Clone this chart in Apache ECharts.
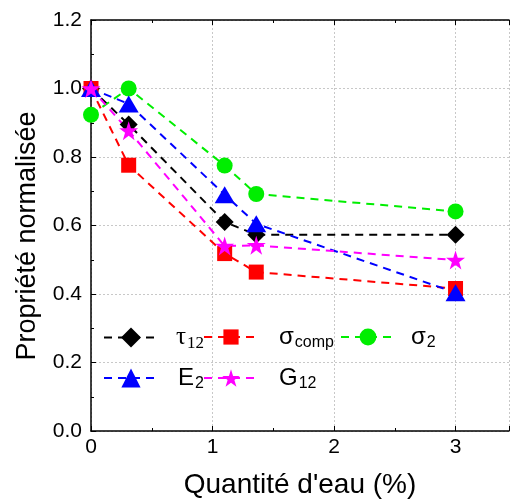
<!DOCTYPE html>
<html><head><meta charset="utf-8">
<script src="https://cdn.jsdelivr.net/npm/echarts@6/dist/echarts.min.js"></script>
<style>html,body{margin:0;padding:0;background:#fff}#c{width:512px;height:504px}</style>
</head><body><div id="c"></div>
<script>
// Data
const xWater = [0, 0.31, 1.10, 1.36, 3];
const tau12 = [1.0, 0.895, 0.61, 0.573, 0.573];
const sigmaComp = [1.0, 0.776, 0.518, 0.464, 0.416];
const sigma2 = [0.923, 1.0, 0.775, 0.692, 0.641];
const E2 = [1.0, 0.955, 0.69, 0.605, 0.404];
const G12 = [1.0, 0.877, 0.54, 0.542, 0.499];
const yTicks = [0.0, 0.2, 0.4, 0.6, 0.8, 1.0, 1.2];
const xTicks = [0, 1, 2, 3];
const xTitle = "Quantité d'eau (%)";
const yTitle = 'Propriété normalisée';

const star = 'path://M50,0 L61.2,34.5 L97.6,34.5 L68.2,55.9 L79.4,90.5 L50,69.1 L20.6,90.5 L31.8,55.9 L2.4,34.5 L38.8,34.5 Z';
const diamond = 'path://M50,0 L100,50 L50,100 L0,50 Z';
const pairs = v => xWater.map((x, i) => [x, v[i]]);
function mk(name, data, color, symbol, size) {
  return {
    name, type: 'line', data: pairs(data), symbol, symbolSize: size,
    itemStyle: { color, borderWidth: 0 },
    lineStyle: { color, width: 2, type: [8, 6] },
    emphasis: { disabled: true }, animation: false, z: 3
  };
}
const labels = {
  tau12: '{g|τ}{ss|12}',
  sigmacomp: '{n|σ}{s|comp}',
  sigma2: '{n|σ}{s|2}',
  E2: '{n|E}{s|2}',
  G12: '{n|G}{s|12}'
};
const rich = {
  g: { fontFamily: 'Liberation Serif', fontSize: 25, color: '#000', lineHeight: 28 },
  n: { fontFamily: 'Liberation Sans', fontSize: 24, color: '#000', lineHeight: 28 },
  s: { fontFamily: 'Liberation Sans', fontSize: 16, color: '#000', lineHeight: 16, padding: [12, 0, 0, 1] },
  ss: { fontFamily: 'Liberation Serif', fontSize: 17, color: '#000', lineHeight: 16, padding: [12, 0, 0, 1] }
};
// one legend per entry: [name, left, top, itemHeight (symbol = 0.8*h), text padding]
function leg(name, left, top, h, pad) {
  return {
    orient: 'horizontal', left, top, padding: 0, itemWidth: 54, itemHeight: h,
    formatter: n => labels[n], textStyle: { rich, padding: [0, 0, 0, pad] }, data: [name]
  };
}
const chart = echarts.init(document.getElementById('c'), null, { renderer: 'canvas' });
chart.setOption({
  animation: false,
  grid: { left: 91, top: 20, right: 0, bottom: 72, containLabel: false },
  legend: [
    leg('tau12', 103, 323, 25, 13),
    leg('sigmacomp', 203, 323, 19, 16),
    leg('sigma2', 340, 323, 21, 11),
    leg('E2', 103, 364, 24, 15),
    leg('G12', 203, 364, 22, 16)
  ],
  graphic: [{
    type: 'text', x: 28, y: 236, rotation: Math.PI / 2, silent: true,
    style: { text: yTitle, fontFamily: 'Liberation Sans', fontSize: 27, fill: '#000',
      textAlign: 'center', textVerticalAlign: 'middle' }
  }],
  xAxis: [{
    type: 'value', min: 0, max: 3.44, interval: 1,
    name: xTitle, nameLocation: 'middle', nameGap: 40,
    nameTextStyle: { fontFamily: 'Liberation Sans', fontSize: 28, color: '#000' },
    axisLine: { show: true, onZero: false, lineStyle: { color: '#000', width: 1.5 } },
    axisTick: { show: true, inside: true, length: 5, lineStyle: { color: '#000' } },
    minorTick: { show: true, splitNumber: 2, length: 3, lineStyle: { color: '#000' } },
    axisLabel: { fontFamily: 'Liberation Sans', fontSize: 21, color: '#000', margin: 6,
      formatter: v => (xTicks.includes(v) ? String(v) : '') },
    splitLine: { show: true, lineStyle: { color: '#c8c8c8', type: [2, 2], width: 1 } }
  }, {
    type: 'value', position: 'top', min: 0, max: 3.44, interval: 1,
    axisLine: { show: true, onZero: false, lineStyle: { color: '#000', width: 1.5 } },
    axisTick: { show: true, inside: true, length: 5, lineStyle: { color: '#000' } },
    minorTick: { show: true, splitNumber: 2, length: 3, lineStyle: { color: '#000' } },
    axisLabel: { show: false }, splitLine: { show: false }
  }],
  yAxis: {
    type: 'value', min: 0, max: 1.2, interval: 0.2,
    axisLine: { show: true, onZero: false, lineStyle: { color: '#000', width: 1.5 } },
    axisTick: { show: true, inside: true, length: 5, lineStyle: { color: '#000' } },
    minorTick: { show: true, splitNumber: 2, length: 3, lineStyle: { color: '#000' } },
    axisLabel: { fontFamily: 'Liberation Sans', fontSize: 21, color: '#000', margin: 9,
      formatter: v => { const t = yTicks.find(k => Math.abs(k - v) < 1e-6); return t === undefined ? '' : t.toFixed(1); } },
    splitLine: { show: true, lineStyle: { color: '#c8c8c8', type: [2, 2], width: 1 } }
  },
  series: [
    mk('tau12', tau12, '#000000', diamond, [18, 18]),
    mk('sigmacomp', sigmaComp, '#ff0000', 'rect', 15),
    mk('sigma2', sigma2, '#00ee00', 'circle', 16),
    mk('E2', E2, '#0000ff', 'triangle', [20, 17]),
    mk('G12', G12, '#ff00ff', star, 19)
  ]
});
</script></body></html>
